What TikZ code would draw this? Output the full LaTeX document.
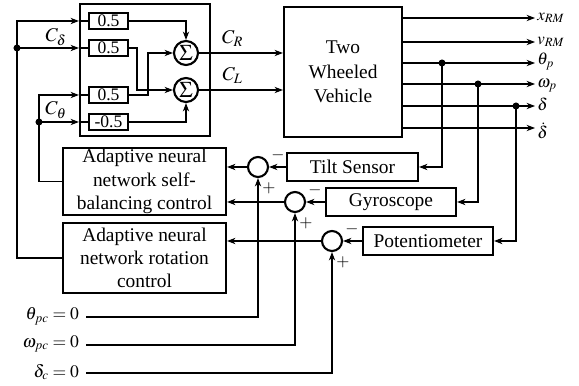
\documentclass[tikz,border=0pt]{standalone}
\usepackage{mathptmx}
\usepackage{fontspec}
\setmainfont{Liberation Serif}
\usepackage{tikz}
\usetikzlibrary{arrows.meta,positioning}

\begin{document}
\begin{tikzpicture}[x=0.025cm,y=-0.025cm,
    font=\fontsize{13.8}{16.5}\selectfont,
    blk/.style={rectangle, draw, line width=1.5pt, align=center, inner sep=0pt},
    gain/.style={blk, minimum width=0.975cm, minimum height=0.4cm, font=\fontsize{12.5}{14}\selectfont},
    sumc/.style={circle, draw, line width=1.5pt, minimum size=0.6cm, inner sep=0pt, font=\fontsize{16}{16}\selectfont},
    cmp/.style={circle, draw, line width=1.5pt, minimum size=0.5cm, inner sep=0pt},
    sig/.style={line width=0.8pt},
    arr/.style={sig, -{Stealth[length=6pt,width=4.5pt]}},
    dot/.style={circle, fill, inner sep=0pt, minimum size=5pt},
    sgn/.style={inner sep=0pt, font=\fontsize{12}{12}\selectfont},
    outlbl/.style={anchor=west, inner sep=0.5pt, xshift=1pt, font=\fontsize{12}{12}\selectfont},
    reflbl/.style={anchor=east, inner sep=0.5pt, font=\fontsize{12.5}{12.5}\selectfont}]
  \useasboundingbox (0,0) rectangle (579,386);

  % gain block and summers
  \node[blk, minimum width=3.25cm, minimum height=3.3cm] (gains) at (145,70) {};
  \node[gain] (g1) at (108.5,21) {0.5};
  \node[gain] (g2) at (108.5,48) {0.5};
  \node[gain] (g3) at (108.5,95) {0.5};
  \node[gain] (g4) at (108.5,122) {-0.5};
  \node[sumc] (s1) at (186,53) {$\Sigma$};
  \node[sumc] (s2) at (186,90) {$\Sigma$};

  % plant
  \node[blk, minimum width=2.95cm, minimum height=3.25cm, font=\fontsize{13.8}{17.5}\selectfont] (vehicle) at (343,72) {Two\\Wheeled\\Vehicle};

  % controllers
  \node[blk, minimum width=4.075cm, minimum height=1.675cm] (selfbal) at (144.5,181.5) {Adaptive neural\\network self-\\balancing control};
  \node[blk, minimum width=4.075cm, minimum height=1.75cm] (rotation) at (144.5,258) {Adaptive neural\\network rotation\\control};

  % sensors and comparators
  \node[blk, minimum width=3.275cm, minimum height=0.7cm] (tilt) at (352.5,167) {Tilt Sensor};
  \node[blk, minimum width=3.25cm, minimum height=0.7cm] (gyro) at (391,202) {Gyroscope};
  \node[blk, minimum width=3.25cm, minimum height=0.7cm] (pot) at (428,241) {Potentiometer};
  \node[cmp] (e1) at (258,167) {};
  \node[cmp] (e2) at (295,202) {};
  \node[cmp] (e3) at (332,241) {};
  \node[sgn] at ([shift={(20,-12)}]e1) {$-$};
  \node[sgn] at ([shift={(11,21)}]e1) {$+$};
  \node[sgn] at ([shift={(20,-12)}]e2) {$-$};
  \node[sgn] at ([shift={(11,21)}]e2) {$+$};
  \node[sgn] at ([shift={(20,-12)}]e3) {$-$};
  \node[sgn] at ([shift={(11,21)}]e3) {$+$};

  % references
  \node[reflbl] (thref) at (80,316) {$\theta_{pc} = 0$};
  \node[reflbl] (omref) at (80,344) {$\omega_{pc} = 0$};
  \node[reflbl] (deref) at (80,372) {$\delta_{c} = 0$};
  \coordinate (r1) at (86,317);
  \coordinate (r2) at (86,345);
  \coordinate (r3) at (86,373);

  % outputs
  \coordinate (o1) at (535,18);
  \coordinate (o2) at (535,42);
  \coordinate (o3) at (535,63);
  \coordinate (o4) at (535,84);
  \coordinate (o5) at (535,106);
  \coordinate (o6) at (535,128);
  \node[outlbl] at (o1) {$x_{RM}$};
  \node[outlbl] at (o2) {$v_{RM}$};
  \node[outlbl] at ([yshift=1]o3) {$\theta_{p}$};
  \node[outlbl] at ([yshift=-1]o4) {$\omega_{p}$};
  \node[outlbl] at ([yshift=1]o5) {$\delta$};
  \node[outlbl] at ([yshift=-2]o6) {$\dot{\delta}$};
  \node[dot] (d1) at (442,63) {};
  \node[dot] (d2) at (478,84) {};
  \node[dot] (d3) at (516,106) {};

  % inside the gain block
  \draw[arr] (g1.east) -| (s1.north);
  \draw[arr] (g2.east) -- ++(8,0) |- (s2.west);
  \draw[arr] (g3.east) -- ++(19,0) |- (s1.west);
  \draw[arr] (g4.east) -| (s2.south);
  \draw[arr] (s1.east) -- (vehicle.west |- s1) node[pos=0.4, above=1pt] {$C_R$};
  \draw[arr] (s2.east) -- (vehicle.west |- s2) node[pos=0.4, above=1pt] {$C_L$};

  % vehicle outputs
  \draw[arr] (vehicle.east |- o1) -- (o1);
  \draw[arr] (vehicle.east |- o2) -- (o2);
  \draw[arr] (vehicle.east |- o3) -- (o3);
  \draw[arr] (vehicle.east |- o4) -- (o4);
  \draw[arr] (vehicle.east |- o5) -- (o5);
  \draw[arr] (vehicle.east |- o6) -- (o6);

  % feedback
  \draw[arr] (d1.center) |- (tilt.east);
  \draw[arr] (d2.center) |- (gyro.east);
  \draw[arr] (d3.center) |- (pot.east);
  \draw[arr] (tilt.west) -- (e1.east);
  \draw[arr] (gyro.west) -- (e2.east);
  \draw[arr] (pot.west) -- (e3.east);
  \draw[arr] (e1.west) -- (selfbal.east |- e1);
  \draw[arr] (e2.west) -- (selfbal.east |- e2);
  \draw[arr] (e3.west) -- (rotation.east |- e3);
  \draw[arr] (r1) -| (e1.south);
  \draw[arr] (r2) -| (e2.south);
  \draw[arr] (r3) -| (e3.south);

  % control signals back to the gains
  \node[dot] (jd) at (17,48) {};
  \node[dot] (jt) at (39,122) {};
  \draw[sig] (rotation.west) -| (jd.center);
  \draw[arr] (jd.center) |- (gains.west |- g1);
  \draw[sig] (gains.west |- g1) -- (g1.west);
  \draw[arr] (jd.center) -- (gains.west |- g2);
  \draw[sig] (gains.west |- g2) -- (g2.west);
  \draw[sig] (selfbal.west) -| (jt.center);
  \draw[arr] (jt.center) |- (gains.west |- g3);
  \draw[sig] (gains.west |- g3) -- (g3.west);
  \draw[arr] (jt.center) -- (gains.west |- g4);
  \draw[sig] (gains.west |- g4) -- (g4.west);
  \node at (56,37) {$C_\delta$};
  \node at (56,110) {$C_\theta$};
\end{tikzpicture}
\end{document}
